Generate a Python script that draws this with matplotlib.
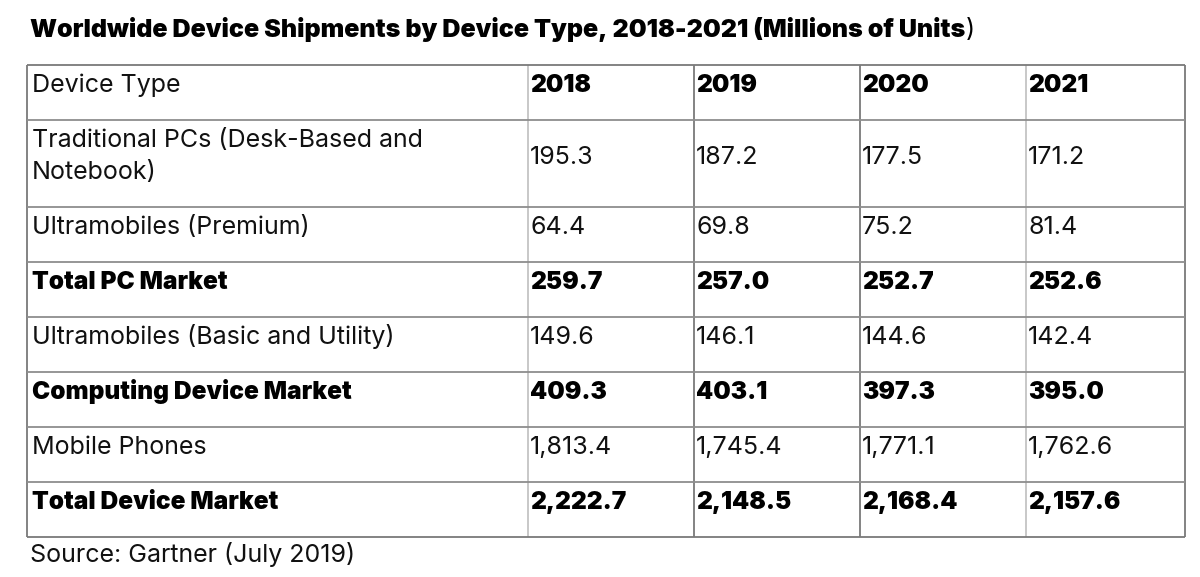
import matplotlib
matplotlib.use("Agg")
import matplotlib.pyplot as plt

title = "Worldwide Device Shipments by Device Type, 2018-2021 (Millions of Units"
header = ["Device Type", "2018", "2019", "2020", "2021"]
device_types = [
    "Traditional PCs (Desk-Based and\nNotebook)",
    "Ultramobiles (Premium)",
    "Total PC Market",
    "Ultramobiles (Basic and Utility)",
    "Computing Device Market",
    "Mobile Phones",
    "Total Device Market",
]
bold_rows = [False, False, True, False, True, False, True]
v2018 = ["195.3", "64.4", "259.7", "149.6", "409.3", "1,813.4", "2,222.7"]
v2019 = ["187.2", "69.8", "257.0", "146.1", "403.1", "1,745.4", "2,148.5"]
v2020 = ["177.5", "75.2", "252.7", "144.6", "397.3", "1,771.1", "2,168.4"]
v2021 = ["171.2", "81.4", "252.6", "142.4", "395.0", "1,762.6", "2,157.6"]
source = "Source: Gartner (July 2019)"

W, H = 1200, 577
fig = plt.figure(figsize=(W / 100, H / 100), dpi=100)
ax = fig.add_axes([0, 0, 1, 1])
ax.set_xlim(0, W)
ax.set_ylim(H, 0)
ax.axis("off")

LIGHT = dict(family="Inter", fontweight="normal", fontsize=18, color="#111111")
BOLD = dict(family="Inter", fontweight="black", fontsize=17.6, color="#000000")

col_x = [27, 528, 694, 860, 1026, 1185]
row_y = [65, 120, 207, 262, 317, 372, 427, 482, 537]

for i, x in enumerate(col_x):
    c = "#7a7a7a" if i in (0, 2, 3, 5) else "#c4c4c4"
    ax.plot([x, x], [row_y[0], row_y[-1]], color=c, lw=1.3, solid_capstyle="butt")
for j, y in enumerate(row_y):
    c = "#7a7a7a" if j in (0, len(row_y) - 1) else "#8e8e8e"
    ax.plot([col_x[0], col_x[-1]], [y, y], color=c, lw=1.3, solid_capstyle="butt")

t = ax.text(30, 37, title, ha="left", va="baseline", family="Inter",
            fontweight="black", fontsize=18, color="#000000")
fig.canvas.draw()
bb = t.get_window_extent()
ax.text(30 + bb.width + 1, 37, ")", ha="left", va="baseline", family="Inter",
        fontweight="normal", fontsize=18, color="#000000")

ax.text(32, row_y[0] + 27, header[0], ha="left", va="baseline", **LIGHT)
for k in range(1, 5):
    ax.text(col_x[k] + 2, row_y[0] + 27, header[k], ha="left", va="baseline", **BOLD)

cols = [v2018, v2019, v2020, v2021]
for r, name in enumerate(device_types):
    top = row_y[r + 1]
    style = BOLD if bold_rows[r] else LIGHT
    if "\n" in name:
        l1, l2 = name.split("\n")
        ax.text(32, top + 27, l1, ha="left", va="baseline", **style)
        ax.text(32, top + 59, l2, ha="left", va="baseline", **style)
        vy = top + 44
    else:
        ax.text(32, top + 27, name, ha="left", va="baseline", **style)
        vy = top + 27
    for k, col in enumerate(cols):
        ax.text(col_x[k + 1] + 2, vy, col[r], ha="left", va="baseline", **style)

ax.text(30, 562, source, ha="left", va="baseline", **LIGHT)

fig.savefig("out.png", dpi=100, facecolor="white")
